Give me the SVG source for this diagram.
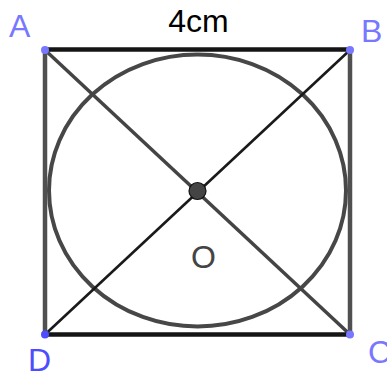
<svg xmlns="http://www.w3.org/2000/svg" width="387" height="374" viewBox="0 0 387 374">
<style>
.lbl{font-family:"Liberation Sans",Arial,sans-serif;font-size:32px}
.pt{fill:#7777ff}
.edge-k{stroke:#151515;stroke-width:4.5;fill:none}
.edge-g{stroke:#505050;stroke-width:4.5;fill:none}
.diag-g{stroke:#444;stroke-width:3.5;fill:none}
.diag-k{stroke:#1a1a1a;stroke-width:2.6;fill:none}
</style>
<rect width="387" height="374" fill="#fff"/>
<g id="incircle">
<ellipse cx="197.5" cy="190.5" rx="148.5" ry="136" fill="none" stroke="#474747" stroke-width="4"/>
</g>
<g id="connectors">
<line class="diag-g" x1="45" y1="50" x2="350" y2="334.5"/>
<line class="diag-k" x1="350" y1="50" x2="45" y2="334.5"/>
<line class="edge-g" x1="45" y1="50" x2="45" y2="334.5"/>
<line class="edge-g" x1="350" y1="50" x2="350" y2="334.5"/>
<line class="edge-k" x1="45" y1="49.5" x2="350" y2="49.5"/>
<line class="edge-k" x1="45" y1="334.5" x2="350" y2="334.5"/>
</g>
<g id="side-label">
<text class="lbl" x="198.5" y="32" text-anchor="middle" font-size="33" fill="#000">4cm</text>
</g>
<g id="O">
<circle cx="197.5" cy="191" r="8.5" fill="#444" stroke="#111" stroke-width="1.2"/>
<text class="lbl" x="203.5" y="268" text-anchor="middle" font-size="27" fill="#444">O</text>
</g>
<g id="A">
<circle class="pt" cx="45" cy="50" r="4"/>
<text class="lbl" x="9" y="37" fill="#7777ff">A</text>
</g>
<g id="B">
<circle class="pt" cx="350" cy="50" r="4"/>
<text class="lbl" x="361" y="42" fill="#7777ff">B</text>
</g>
<g id="C">
<circle class="pt" cx="350" cy="334.5" r="4"/>
<text class="lbl" x="368" y="363" fill="#7777ff">C</text>
</g>
<g id="D">
<circle cx="45" cy="334.5" r="4" fill="#4d4dff"/>
<text class="lbl" x="28" y="371" fill="#4d4dff">D</text>
</g>
</svg>
